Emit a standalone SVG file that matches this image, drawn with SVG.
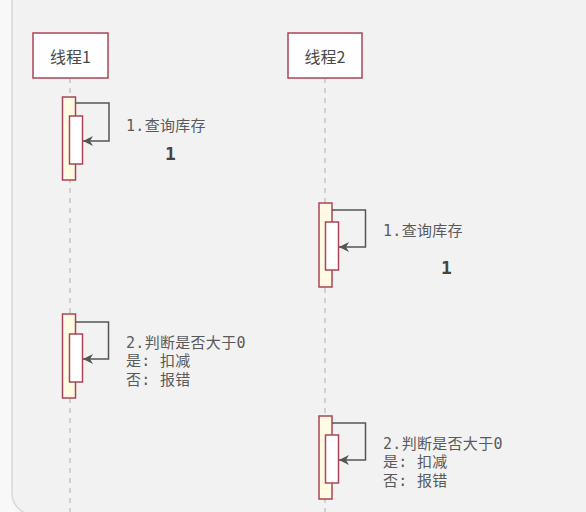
<svg xmlns="http://www.w3.org/2000/svg" width="586" height="512" viewBox="0 0 586 512">
<defs>
<marker id="ah" viewBox="0 0 10 10" refX="10" refY="5" markerWidth="10" markerHeight="10" markerUnits="userSpaceOnUse" orient="auto">
<path d="M0,0 L10,5 L0,10 L3,5 Z" fill="#555"/>
</marker>
<style>
.part{fill:#fff;stroke:#ab4455;stroke-width:1.5}
.ptxt{font-family:"Noto Sans CJK SC","Noto Sans",sans-serif;font-size:16px;fill:#4a4a4a;text-anchor:middle;dominant-baseline:central}
.life{stroke:#bbb;stroke-width:1.2;stroke-dasharray:5,5;fill:none}
.act{fill:#fffbe3;stroke:#ab4455;stroke-width:1.5}
.act2{fill:#fff;stroke:#ab4455;stroke-width:1.5}
.msg{fill:none;stroke:#555;stroke-width:1.5}
.lbl{font-family:"DejaVu Sans Mono","Noto Sans CJK SC",monospace;font-size:15px;fill:#5a5a5a;dominant-baseline:central;letter-spacing:0.3px}
.num{font-family:"DejaVu Sans Mono",monospace;font-size:18px;font-weight:bold;fill:#444;dominant-baseline:central}
</style>
</defs>
<rect x="0" y="0" width="586" height="512" fill="#f8f8f8"/>
<rect x="12" y="-30" width="600" height="545" rx="22" fill="#f2f2f2" stroke="#d8d8d8" stroke-width="1.5"/>
<g id="lifelines">
<line class="life" x1="70" y1="78" x2="70" y2="512"/>
<line class="life" x1="325" y1="78" x2="325" y2="512"/>
</g>
<g id="thread1">
<rect class="part" x="33" y="33" width="75" height="45"/>
<text class="ptxt" x="70.5" y="56">线程1</text>
</g>
<g id="thread2">
<rect class="part" x="288" y="33" width="74" height="45"/>
<text class="ptxt" x="325" y="56">线程2</text>
</g>
<g id="act1">
<rect class="act" x="62.5" y="97" width="13" height="83"/>
<rect class="act2" x="69.5" y="116" width="13" height="48"/>
</g>
<g id="act2">
<rect class="act" x="319" y="203" width="13" height="84"/>
<rect class="act2" x="325.5" y="222" width="13" height="48"/>
</g>
<g id="act3">
<rect class="act" x="62.5" y="314" width="13" height="84"/>
<rect class="act2" x="69.5" y="334" width="13" height="48"/>
</g>
<g id="act4">
<rect class="act" x="319" y="416" width="13" height="83"/>
<rect class="act2" x="325.5" y="435" width="13" height="48"/>
</g>
<g id="connectors">
<polyline class="msg" points="75.5,103 109,103 109,141 83,141" marker-end="url(#ah)"/>
<polyline class="msg" points="332,210 365.5,210 365.5,247 339,247" marker-end="url(#ah)"/>
<polyline class="msg" points="75.5,322 108.5,322 108.5,359 83,359" marker-end="url(#ah)"/>
<polyline class="msg" points="332,423 365.5,423 365.5,460 339,460" marker-end="url(#ah)"/>
</g>
<g id="labels">
<text class="lbl" x="126" y="126">1.查询库存</text>
<text class="num" x="165" y="153">1</text>
<text class="lbl" x="383" y="231">1.查询库存</text>
<text class="num" x="441" y="267">1</text>
<text class="lbl" x="126" y="343">2.判断是否大于0</text>
<text class="lbl" x="126" y="361">是: 扣减</text>
<text class="lbl" x="126" y="380">否: 报错</text>
<text class="lbl" x="383" y="444">2.判断是否大于0</text>
<text class="lbl" x="383" y="462">是: 扣减</text>
<text class="lbl" x="383" y="481">否: 报错</text>
</g>
</svg>
